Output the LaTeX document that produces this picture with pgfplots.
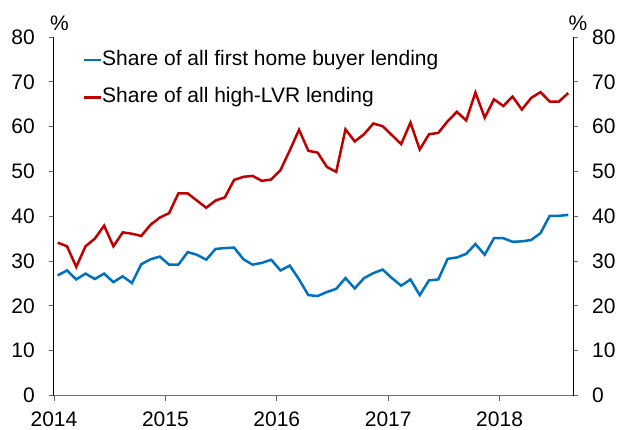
\documentclass[border=0pt]{standalone}
\usepackage{fontspec}
\setmainfont{Liberation Sans}
\usepackage{pgfplots}
\pgfplotsset{compat=1.18}
\usepackage{pgfplotstable}
\definecolor{fhb}{HTML}{0070C0}
\definecolor{lvr}{HTML}{C00000}
\pgfplotstableread{
fhb lvr
26.8 34.1
27.9 33.3
25.9 28.7
27.2 33.3
26.0 35.0
27.2 37.9
25.3 33.3
26.6 36.4
25.1 36.1
29.3 35.6
30.4 38.1
31.0 39.7
29.2 40.7
29.2 45.1
32.0 45.1
31.4 43.5
30.3 41.9
32.7 43.5
32.9 44.2
33.0 48.1
30.4 48.8
29.2 49.0
29.6 47.9
30.3 48.2
27.9 50.3
29.0 54.7
25.9 59.3
22.4 54.6
22.2 54.2
23.1 51.0
23.8 49.9
26.2 59.4
23.9 56.7
26.2 58.3
27.3 60.7
28.1 60.1
26.2 58.1
24.5 56.1
25.9 60.9
22.4 54.9
25.7 58.3
25.9 58.6
30.5 61.2
30.8 63.3
31.6 61.4
33.8 67.6
31.4 62.0
35.1 66.1
35.1 64.6
34.3 66.7
34.4 63.8
34.7 66.4
36.2 67.7
40.1 65.6
40.1 65.6
40.3 67.5
}\datatable
\newcommand\tfont{\fontsize{21bp}{25bp}\selectfont}
\begin{document}
\begin{tikzpicture}
\pgfplotsset{
  every axis/.append style={
    scale only axis, width=519bp, height=358.5bp,
    xmin=2014, xmax=2018.659, ymin=0, ymax=80,
    ytick={0,10,...,80},
    tick align=outside, major tick length=5bp,
    tick style={black!60, line width=0.9bp},
    /pgf/number format/assume math mode=true,
    tick label style={font=\tfont, inner sep=0pt},
    every outer x axis line/.append style={-},
    every outer y axis line/.append style={-},
  }
}
\begin{axis}[
  axis x line*=bottom, axis y line*=left,
  x axis line style={black!55, line width=1bp, -},
  y axis line style={black, line width=1bp, -},
  xtick={2014,2015,2016,2017,2018},
  xticklabels={2014,2015,2016,2017,2018},
  xticklabel style={yshift=-11bp},
  yticklabel style={xshift=-14bp},
  legend style={draw=none, fill=none, at={(0.055,0.9637)}, anchor=north west,
    inner sep=0pt, row sep=18.2bp, font=\tfont,
    nodes={inner sep=0pt, text height=15bp, text depth=4.5bp}},
  legend cell align=left,
  legend image code/.code={\draw[#1, line width=2.5bp] (0bp,0bp) -- (17bp,0bp);},
]
\addplot[fhb, line width=2.5bp] table[x expr=2014+(\coordindex+0.4)/12, y=fhb]{\datatable};
\addlegendentry{Share of all first home buyer lending}
\addplot[lvr, line width=2.5bp] table[x expr=2014+(\coordindex+0.4)/12, y=lvr]{\datatable};
\addlegendentry{Share of all high-LVR lending}
\end{axis}
\begin{axis}[
  axis y line*=right, axis x line=none,
  y axis line style={black, line width=1bp, -},
  yticklabel style={xshift=14bp},
]
\addplot[draw=none] table[x expr=2014+(\coordindex+0.4)/12, y=fhb]{\datatable};
\end{axis}
\node[font=\tfont, inner sep=0pt] at (5.5bp,372.7bp) {\%};
\node[font=\tfont, inner sep=0pt] at (524bp,372.7bp) {\%};
\pgfresetboundingbox
\path[use as bounding box] (-54bp,-34.5bp) rectangle (564bp,395.5bp);
\end{tikzpicture}
\end{document}
